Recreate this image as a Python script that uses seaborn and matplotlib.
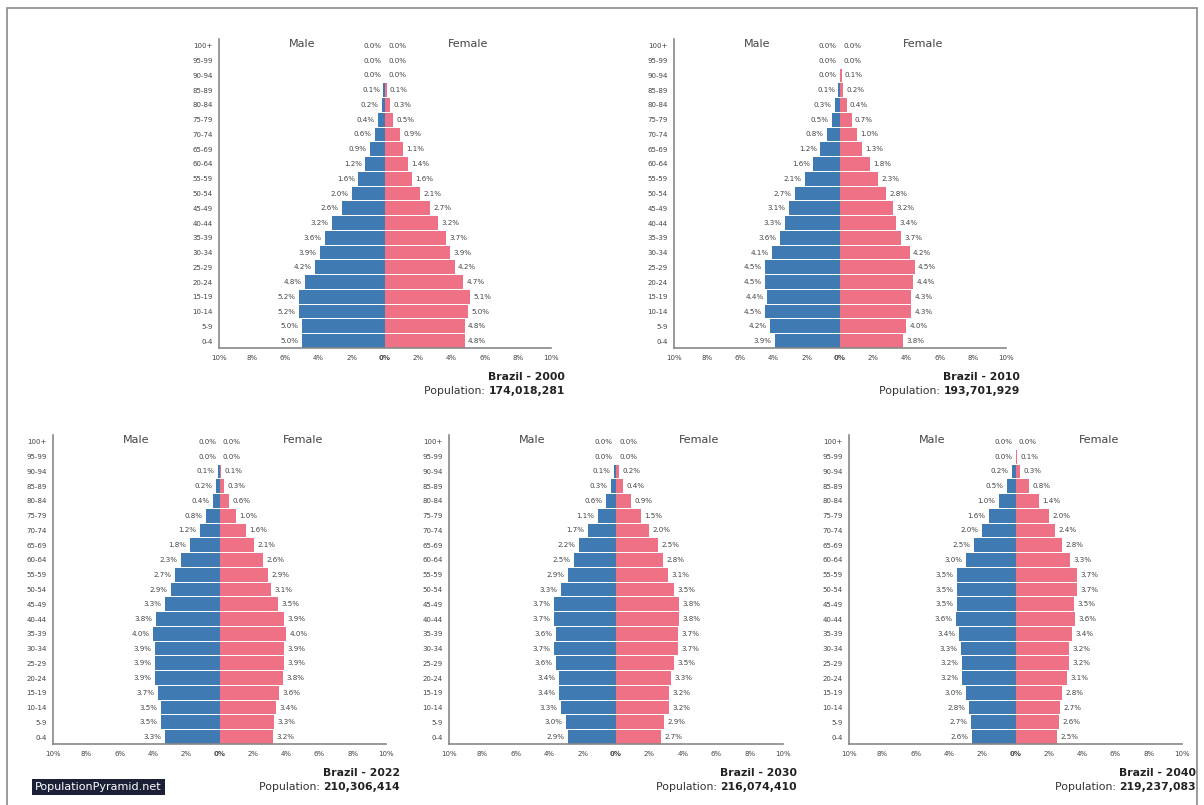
import numpy as np
import pandas as pd
import seaborn as sns
import matplotlib.pyplot as plt
from matplotlib.patches import Rectangle

# age groups, top of the pyramid first
ages = ["100+", "95-99", "90-94", "85-89", "80-84", "75-79", "70-74", "65-69",
        "60-64", "55-59", "50-54", "45-49", "40-44", "35-39", "30-34", "25-29",
        "20-24", "15-19", "10-14", "5-9", "0-4"]

male_2000 = [0.0, 0.0, 0.0, 0.1, 0.2, 0.4, 0.6, 0.9, 1.2, 1.6, 2.0, 2.6, 3.2, 3.6, 3.9, 4.2, 4.8, 5.2, 5.2, 5.0, 5.0]
female_2000 = [0.0, 0.0, 0.0, 0.1, 0.3, 0.5, 0.9, 1.1, 1.4, 1.6, 2.1, 2.7, 3.2, 3.7, 3.9, 4.2, 4.7, 5.1, 5.0, 4.8, 4.8]

male_2010 = [0.0, 0.0, 0.0, 0.1, 0.3, 0.5, 0.8, 1.2, 1.6, 2.1, 2.7, 3.1, 3.3, 3.6, 4.1, 4.5, 4.5, 4.4, 4.5, 4.2, 3.9]
female_2010 = [0.0, 0.0, 0.1, 0.2, 0.4, 0.7, 1.0, 1.3, 1.8, 2.3, 2.8, 3.2, 3.4, 3.7, 4.2, 4.5, 4.4, 4.3, 4.3, 4.0, 3.8]

male_2022 = [0.0, 0.0, 0.1, 0.2, 0.4, 0.8, 1.2, 1.8, 2.3, 2.7, 2.9, 3.3, 3.8, 4.0, 3.9, 3.9, 3.9, 3.7, 3.5, 3.5, 3.3]
female_2022 = [0.0, 0.0, 0.1, 0.3, 0.6, 1.0, 1.6, 2.1, 2.6, 2.9, 3.1, 3.5, 3.9, 4.0, 3.9, 3.9, 3.8, 3.6, 3.4, 3.3, 3.2]

male_2030 = [0.0, 0.0, 0.1, 0.3, 0.6, 1.1, 1.7, 2.2, 2.5, 2.9, 3.3, 3.7, 3.7, 3.6, 3.7, 3.6, 3.4, 3.4, 3.3, 3.0, 2.9]
female_2030 = [0.0, 0.0, 0.2, 0.4, 0.9, 1.5, 2.0, 2.5, 2.8, 3.1, 3.5, 3.8, 3.8, 3.7, 3.7, 3.5, 3.3, 3.2, 3.2, 2.9, 2.7]

male_2040 = [0.0, 0.0, 0.2, 0.5, 1.0, 1.6, 2.0, 2.5, 3.0, 3.5, 3.5, 3.5, 3.6, 3.4, 3.3, 3.2, 3.2, 3.0, 2.8, 2.7, 2.6]
female_2040 = [0.0, 0.1, 0.3, 0.8, 1.4, 2.0, 2.4, 2.8, 3.3, 3.7, 3.7, 3.5, 3.6, 3.4, 3.2, 3.2, 3.1, 2.8, 2.7, 2.6, 2.5]

years = [2000, 2010, 2022, 2030, 2040]
populations = ["174,018,281", "193,701,929", "210,306,414", "216,074,410", "219,237,083"]
males = [male_2000, male_2010, male_2022, male_2030, male_2040]
females = [female_2000, female_2010, female_2022, female_2030, female_2040]

xticks = [-10, -8, -6, -4, -2, 0, 2, 4, 6, 8, 10]
xticklabels = ["10%", "8%", "6%", "4%", "2%", "0%", "2%", "4%", "6%", "8%", "10%"]

MALE_C = "#3f7ab3"
FEMALE_C = "#ef7185"
TXT = "#444444"

sns.set_style("white")
plt.rcParams["font.family"] = ["DejaVu Sans"]

W, H = 1204, 805
fig = plt.figure(figsize=(W / 100, H / 100), dpi=100)

# axes boxes in pixels: left, right, top, bottom
boxes = [(219, 551, 38.6, 348.4), (674, 1006, 38.6, 348.4),
         (53, 386, 434.6, 744.4), (449, 783, 434.6, 744.4), (849, 1182, 434.6, 744.4)]

for i, year in enumerate(years):
    l, r, t, b = boxes[i]
    ax = fig.add_axes([l / W, 1 - b / H, (r - l) / W, (b - t) / H])
    df = pd.DataFrame({"age": ages, "male": np.array(males[i]), "female": np.array(females[i])})

    sns.barplot(data=df, x=-df["male"], y="age", order=ages, color=MALE_C,
                saturation=1, width=0.92, linewidth=0, ax=ax)
    sns.barplot(data=df, x="female", y="age", order=ages, color=FEMALE_C,
                saturation=1, width=0.92, linewidth=0, ax=ax)

    for j, (m, f) in enumerate(zip(df["male"], df["female"])):
        ax.text(-m - 0.2, j, f"{m:.1f}%", ha="right", va="center", fontsize=5.1, color=TXT)
        ax.text(f + 0.2, j, f"{f:.1f}%", ha="left", va="center", fontsize=5.1, color=TXT)

    ax.set_xlim(-10, 10)
    ax.set_ylim(20.5, -0.5)
    ax.set_xticks(xticks)
    ax.set_xticklabels(xticklabels)
    ax.set_xlabel("")
    ax.set_ylabel("")
    ax.get_xticklabels()[5].set_fontweight("bold")
    ax.get_xticklabels()[5].set_color("#222222")
    ax.tick_params(axis="both", labelsize=5.0, labelcolor=TXT, colors="#888888",
                   length=3, width=0.8, pad=1.5)
    for s in ["top", "right"]:
        ax.spines[s].set_visible(False)
    for s in ["left", "bottom"]:
        ax.spines[s].set_color("#888888")
        ax.spines[s].set_linewidth(1.2)

    ax.text(-5, -0.15, "Male", ha="center", va="center", fontsize=8, color=TXT)
    ax.text(5, -0.15, "Female", ha="center", va="center", fontsize=8, color=TXT)

    off = 14 / (r - l)
    ax.text(1 + off, -0.092, f"Brazil - {year}", transform=ax.transAxes, ha="right",
            va="center", fontsize=7.8, fontweight="bold", color="#222222")
    num = ax.text(1 + off, -0.138, populations[i], transform=ax.transAxes, ha="right",
                  va="center", fontsize=7.8, fontweight="bold", color="#222222")
    ax.annotate("Population: ", xy=(0, 0), xycoords=num, ha="right", va="bottom",
                fontsize=7.8, color="#333333")

fig.text(35 / W, 1 - 787 / H, "PopulationPyramid.net", ha="left", va="center",
         fontsize=8, color="white",
         bbox=dict(boxstyle="square,pad=0.3", facecolor="#1b2036", edgecolor="none"))

fig.patches.append(Rectangle((7 / W, -0.01), (1197 - 7) / W, (H - 8) / H + 0.01,
                             transform=fig.transFigure, fill=False,
                             edgecolor="#8a8a8a", linewidth=1.2))

fig.savefig("out.png", dpi=100)
